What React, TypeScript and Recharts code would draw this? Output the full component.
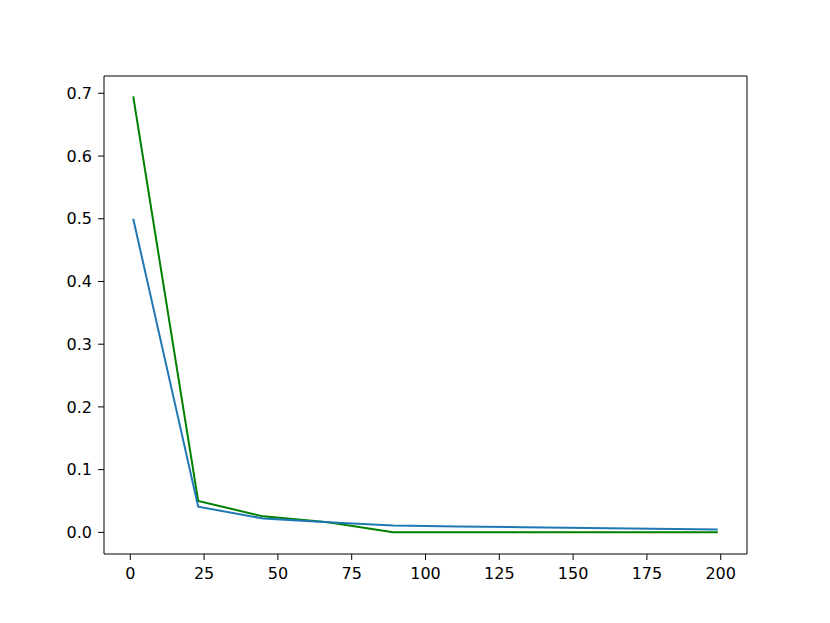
import React from "react";
import { LineChart, Line, XAxis, YAxis, ReferenceLine } from "recharts";

// sample positions along the x axis
const xs = [1, 23, 45, 67, 89, 111, 133, 155, 177, 199];
// series values
const blueVals = [0.5, 0.041, 0.022, 0.016, 0.011, 0.0095, 0.0083, 0.007, 0.0058, 0.0045];
const greenVals = [0.695, 0.05, 0.0255, 0.016, 0.0, 0.0, 0.0, 0.0, 0.0, 0.0];

const xTicks = [0, 25, 50, 75, 100, 125, 150, 175, 200];
const yTicks = [0, 0.1, 0.2, 0.3, 0.4, 0.5, 0.6, 0.7];

const xDomain: [number, number] = [-8.9, 208.9];
const yDomain: [number, number] = [-0.0345, 0.7276];

const data = xs.map((x, i) => ({ x, blue: blueVals[i], green: greenVals[i] }));

const font = { fontFamily: "DejaVu Sans", fontSize: 16, fill: "#000" };

export default function App() {
  return (
    <div style={{ position: "absolute", left: 0, top: 0, background: "#fff" }}>
      <LineChart
        width={830}
        height={623}
        data={data}
        margin={{ top: 76, right: 83, bottom: 39, left: 54 }}
      >
        <XAxis
          dataKey="x"
          type="number"
          domain={xDomain}
          ticks={xTicks}
          allowDataOverflow
          height={30}
          stroke="#000"
          tickSize={6}
          tickMargin={8}
          tick={font}
        />
        <YAxis
          type="number"
          domain={yDomain}
          ticks={yTicks}
          allowDataOverflow
          width={50}
          stroke="#000"
          tickSize={6}
          tickMargin={6}
          tick={font}
          tickFormatter={(v: number) => v.toFixed(1)}
        />
        {/* top and right spines */}
        <ReferenceLine y={yDomain[1]} stroke="#000" strokeWidth={1} ifOverflow="visible" />
        <ReferenceLine x={xDomain[1]} stroke="#000" strokeWidth={1} ifOverflow="visible" />
        <Line
          type="linear"
          dataKey="green"
          stroke="#008000"
          strokeWidth={2}
          dot={false}
          isAnimationActive={false}
        />
        <Line
          type="linear"
          dataKey="blue"
          stroke="#1f77b4"
          strokeWidth={2}
          dot={false}
          isAnimationActive={false}
        />
      </LineChart>
    </div>
  );
}
